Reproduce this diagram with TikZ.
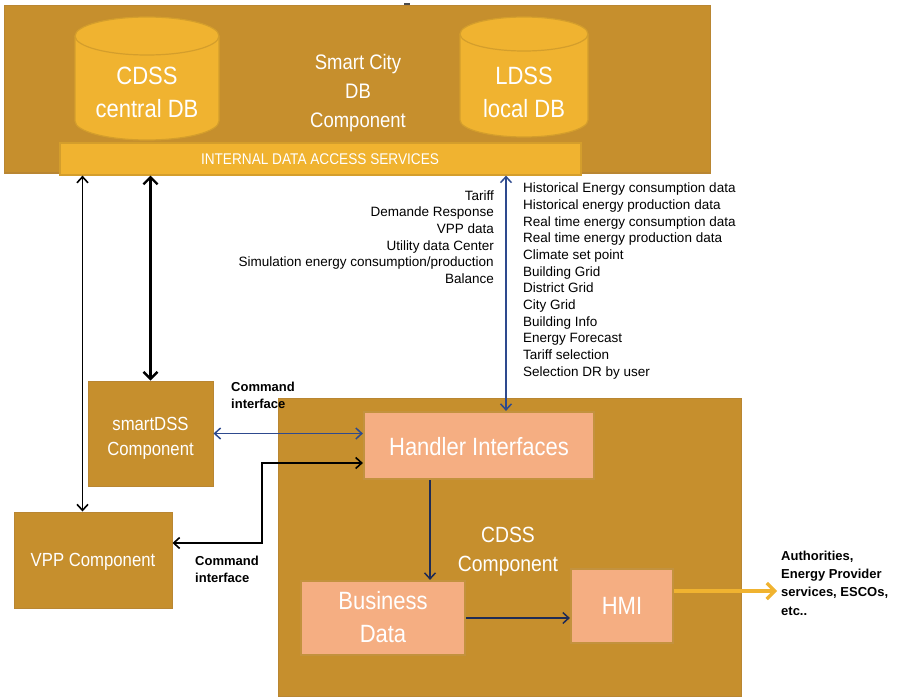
\documentclass[tikz,border=0pt]{standalone}
\usepackage{fontspec}
\setmainfont{Liberation Sans}
\newfontfamily\narrowfont[FakeStretch=0.88]{Liberation Sans}
\usetikzlibrary{arrows.meta,calc}
\definecolor{darkgold}{HTML}{C68F2D}
\definecolor{goldline}{HTML}{B98632}
\definecolor{yellowfill}{HTML}{F0B330}
\definecolor{yellowline}{HTML}{D49E2C}
\definecolor{salmon}{HTML}{F5AE82}
\definecolor{salmonline}{HTML}{C3923E}
\definecolor{navy}{HTML}{2E4A8E}
\definecolor{darknavy}{HTML}{1E2B55}
\begin{document}
\begin{tikzpicture}[x=1pt,y=-1pt,
  compbox/.style={draw=goldline, fill=darkgold, line width=1pt, inner sep=0pt},
  ybox/.style={draw=yellowline, fill=yellowfill, line width=1.2pt, inner sep=0pt},
  sbox/.style={draw=salmonline, fill=salmon, line width=2.2pt, inner sep=0pt},
  bigtxt/.style={text=white, align=center, inner sep=0pt, font=\narrowfont\fontsize{25}{33}\selectfont},
  midtxt/.style={text=white, align=center, inner sep=0pt, font=\narrowfont\fontsize{21}{29}\selectfont},
  smalltxt/.style={text=white, align=center, inner sep=0pt, font=\narrowfont\fontsize{19}{25}\selectfont},
  listtxt/.style={text=black, inner sep=0pt, font=\fontsize{13.5}{16.7}\selectfont},
  cmdtxt/.style={text=black, align=left, inner sep=0pt, font=\bfseries\fontsize{13}{17}\selectfont},
  blkarrow/.style={draw=black, line width=1.6pt, {Straight Barb[length=6pt,width=11pt]}-{Straight Barb[length=6pt,width=11pt]}},
  thickarrow/.style={draw=black, line width=2.4pt, {Straight Barb[length=7pt,width=14pt]}-{Straight Barb[length=7pt,width=14pt]}},
  bluearrow/.style={draw=navy, line width=1.5pt, {Straight Barb[length=6pt,width=11pt]}-{Straight Barb[length=6pt,width=11pt]}},
  navyarrow/.style={draw=darknavy, line width=1.5pt, -{Straight Barb[length=6pt,width=11pt]}},
  yelarrow/.style={draw=yellowfill, line width=3.2pt, -{Straight Barb[length=8pt,width=16pt]}}
]
\useasboundingbox (0,0) rectangle (897,698);

% top component
\node[compbox, minimum width=706pt, minimum height=167pt] (top) at (357,89.5) {};
\draw[line width=1.2pt, black!70] (404,4) -- (410,4);

% cylinders
\path[ybox] (75,36) -- (75,121) arc[start angle=180, end angle=0, x radius=72, y radius=19] -- (219,36);
\draw[ybox] (147,36) ellipse[x radius=72, y radius=19];
\path[ybox] (460,34) -- (460,120) arc[start angle=180, end angle=0, x radius=64, y radius=17] -- (588,34);
\draw[ybox] (524,34) ellipse[x radius=64, y radius=17];
\node[bigtxt] (cdb) at (147,92) {CDSS\\central DB};
\node[bigtxt] (ldb) at (524,92) {LDSS\\local DB};
\node[midtxt] (sctxt) at (358,93) {Smart City\\DB\\Component};

% internal data access bar
\node[ybox, minimum width=521pt, minimum height=32pt] (bar) at (320.5,159) {};
\node[text=white, inner sep=0pt, font=\narrowfont\fontsize{15.5}{18}\selectfont] (bartxt) at (320,159) {INTERNAL DATA ACCESS SERVICES};

% left components
\node[compbox, minimum width=125pt, minimum height=105pt] (smart) at (150.5,433.5) {};
\node[smalltxt] (smarttxt) at (150.5,438) {smartDSS\\Component};
\node[compbox, minimum width=158pt, minimum height=96pt] (vpp) at (93,560) {};
\node[smalltxt] (vpptxt) at (93,562) {VPP Component};

% CDSS component
\node[compbox, minimum width=463pt, minimum height=298pt] (cdss) at (509.5,547) {};
\node[midtxt, font=\narrowfont\fontsize{22}{29}\selectfont] (cdsstxt) at (508,552) {CDSS\\Component};
\node[sbox, minimum width=230pt, minimum height=67pt] (handler) at (479,445.5) {};
\node[bigtxt] (handlertxt) at (479,447) {Handler Interfaces};
\node[sbox, minimum width=164pt, minimum height=74pt] (business) at (383,618) {};
\node[bigtxt] (businesstxt) at (383,617) {Business\\Data};
\node[sbox, minimum width=102pt, minimum height=74pt] (hmi) at (622,606) {};
\node[bigtxt] (hmitxt) at (622,606) {HMI};

% text lists
\node[listtxt, align=right, anchor=east] (leftlist) at (494,237) {Tariff\\Demande Response\\VPP data\\Utility data Center\\Simulation energy consumption/production\\Balance};
\node[listtxt, align=left, anchor=west] (rightlist) at (523,281) {Historical Energy consumption data\\Historical energy production data\\Real time energy consumption data\\Real time energy production data\\Climate set point\\Building Grid\\District Grid\\City Grid\\Building Info\\Energy Forecast\\Tariff selection\\Selection DR by user};
\node[cmdtxt, anchor=west] (cmd1) at (231,395) {Command\\interface};
\node[cmdtxt, anchor=west] (cmd2) at (195,569) {Command\\interface};
\node[cmdtxt, anchor=west, font=\bfseries\fontsize{13}{18.3}\selectfont] (auth) at (781,583) {Authorities,\\Energy Provider\\services, ESCOs,\\etc..};

% connector anchor points
\coordinate (vppTop) at ($(vpp.north west)+(69,0)$);
\coordinate (blueBot) at ($(handler.north)+(27,0)$);
\coordinate (hdlOut) at ($(handler.west)+(0,17.5)$);
\coordinate (hdlDown) at ($(handler.south)+(-49,0)$);
\coordinate (bend) at (262,543);
\coordinate (outend) at (777,591);

% connectors
\draw[blkarrow] (vppTop |- bar.south) -- (vppTop);
\draw[thickarrow] (smart.north |- bar.south) -- (smart.north);
\draw[bluearrow] (blueBot |- bar.south) -- (blueBot);
\draw[bluearrow] (smart.east) -- (smart.east -| handler.west);
\draw[blkarrow] (hdlOut) -| (bend) -- (bend -| vpp.east);
\draw[navyarrow] (hdlDown) -- (hdlDown |- business.north);
\draw[navyarrow] (business.east) -- (business.east -| hmi.west);
\draw[yelarrow] (hmi.east |- outend) -- (outend);
\end{tikzpicture}
\end{document}
